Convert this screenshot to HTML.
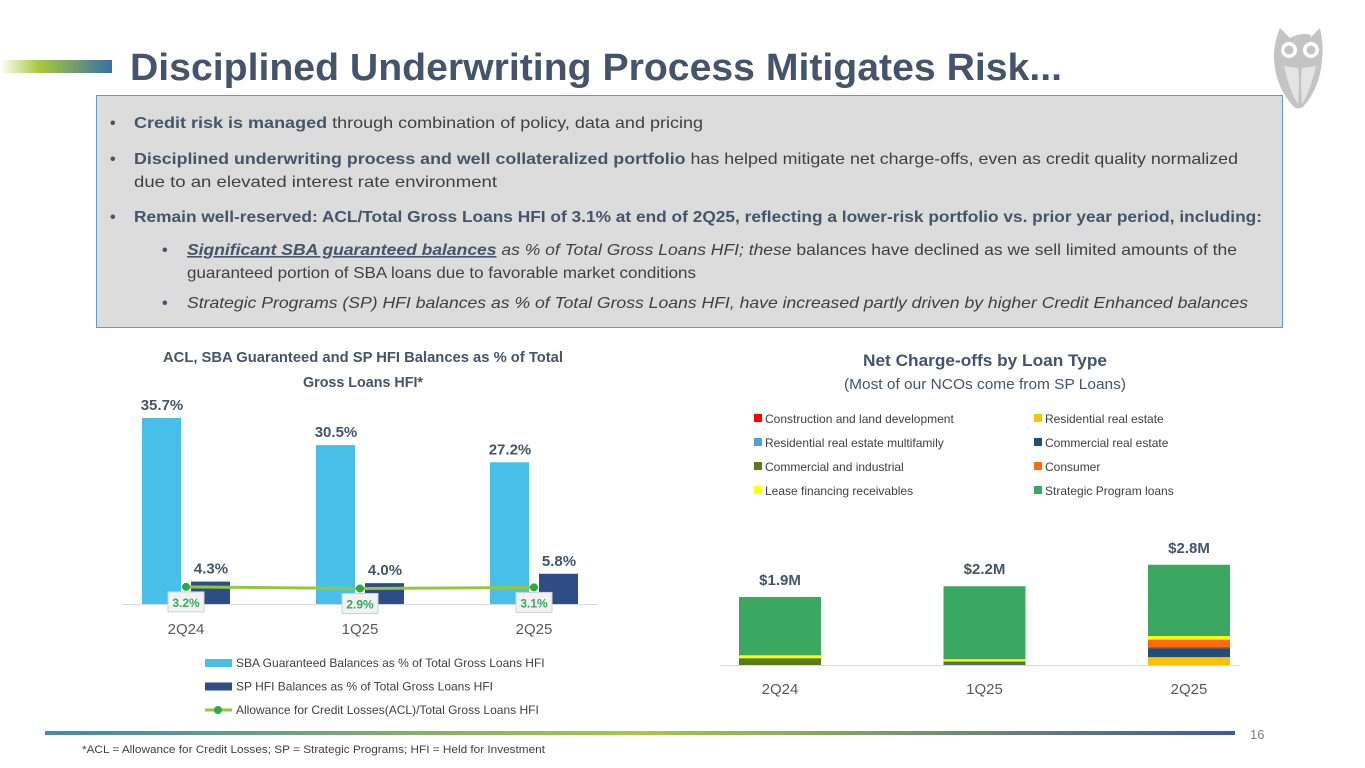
<!DOCTYPE html>
<html><head><meta charset="utf-8"><style>
html,body{margin:0;padding:0;background:#fff;width:1365px;height:768px;overflow:hidden}
svg{display:block;font-family:"Liberation Sans",sans-serif}
</style></head><body>
<svg id="slide" width="1365" height="768" viewBox="0 0 1365 768">
<defs>
<linearGradient id="tg" x1="0" x2="1"><stop offset="0" stop-color="#fff"/><stop offset="0.35" stop-color="#a8c93a"/><stop offset="1" stop-color="#3a6fa8"/></linearGradient>
<linearGradient id="bg" x1="0" x2="1"><stop offset="0" stop-color="#3f8ab0"/><stop offset="0.5" stop-color="#a8c93a"/><stop offset="1" stop-color="#3a5aa0"/></linearGradient>
</defs>
<rect x="0" y="60" width="112" height="13" fill="url(#tg)"/>
<text x="130" y="80" font-size="38" font-weight="bold" fill="#44546a" textLength="932" lengthAdjust="spacingAndGlyphs">Disciplined Underwriting Process Mitigates Risk...</text>
<g>
<path d="M1280 28 L1290 38 Q1297 34 1305 34 Q1313 34 1310 38 L1320 28 Q1324 45 1322 60 Q1320 88 1303 107 Q1298 110 1294 107 Q1276 88 1274 60 Q1273 45 1280 28 Z" fill="#c4c4c4"/>
<circle cx="1289" cy="50" r="8" fill="#fff"/><circle cx="1311" cy="50" r="8" fill="#fff"/>
<circle cx="1289" cy="50" r="4.5" fill="#c4c4c4"/><circle cx="1311" cy="50" r="4.5" fill="#c4c4c4"/>
<path d="M1284 66 Q1290 92 1298 104 Q1300 80 1298 68 Z M1316 66 Q1310 92 1302 104 Q1300 80 1302 68 Z" fill="#e4e4e4"/>
</g>
<rect x="96.5" y="95.5" width="1186" height="232" fill="#dcdcdc" stroke="#5b9bd5" stroke-width="1"/>
<g font-size="16" fill="#404040">
<text x="110" y="128" font-weight="bold" fill="#44546a">•</text>
<text x="134" y="128" textLength="569" lengthAdjust="spacingAndGlyphs"><tspan font-weight="bold" fill="#44546a">Credit risk is managed</tspan> through combination of policy, data and pricing</text>
<text x="110" y="164" font-weight="bold" fill="#44546a">•</text>
<text x="134" y="164" textLength="1104" lengthAdjust="spacingAndGlyphs"><tspan font-weight="bold" fill="#44546a">Disciplined underwriting process and well collateralized portfolio</tspan> has helped mitigate net charge-offs, even as credit quality normalized</text>
<text x="134" y="187" textLength="363" lengthAdjust="spacingAndGlyphs">due to an elevated interest rate environment</text>
<text x="110" y="222" font-weight="bold" fill="#44546a">•</text>
<text x="134" y="222" font-weight="bold" fill="#44546a" textLength="1128" lengthAdjust="spacingAndGlyphs">Remain well-reserved: ACL/Total Gross Loans HFI of 3.1% at end of 2Q25, reflecting a lower-risk portfolio vs. prior year period, including:</text>
<text x="162" y="255" font-weight="bold" fill="#44546a">•</text>
<text x="187" y="255" textLength="1050" lengthAdjust="spacingAndGlyphs"><tspan font-weight="bold" font-style="italic" text-decoration="underline" fill="#44546a">Significant SBA guaranteed balances</tspan><tspan font-style="italic"> as % of Total Gross Loans HFI;  these</tspan> balances have declined as we sell limited amounts of the</text>
<text x="187" y="278" textLength="509" lengthAdjust="spacingAndGlyphs">guaranteed portion of SBA loans due to favorable market conditions</text>
<text x="162" y="308" font-weight="bold" fill="#44546a">•</text>
<text x="187" y="308" font-style="italic" textLength="1061" lengthAdjust="spacingAndGlyphs">Strategic Programs (SP) HFI balances as % of Total Gross Loans HFI, have increased partly driven by higher Credit Enhanced balances</text>
</g>

<g id="leftChart">
<text x="363" y="362" font-size="15" font-weight="bold" fill="#44546a" text-anchor="middle" textLength="400" lengthAdjust="spacingAndGlyphs">ACL, SBA Guaranteed and SP HFI Balances as % of Total</text>
<text x="363" y="387" font-size="15" font-weight="bold" fill="#44546a" text-anchor="middle" textLength="120" lengthAdjust="spacingAndGlyphs">Gross Loans HFI*</text>
<line x1="122" y1="604.5" x2="598" y2="604.5" stroke="#d9d9d9"/>
</g>

<g id="rightChart">
<text x="985" y="366" font-size="17" font-weight="bold" fill="#44546a" text-anchor="middle" textLength="244" lengthAdjust="spacingAndGlyphs">Net Charge-offs by Loan Type</text>
<text x="985" y="389" font-size="15" fill="#44546a" text-anchor="middle" textLength="282" lengthAdjust="spacingAndGlyphs">(Most of our NCOs come from SP Loans)</text>
<line x1="720" y1="665.5" x2="1240" y2="665.5" stroke="#d9d9d9"/>
</g>

<rect x="45" y="731" width="1190" height="4" fill="url(#bg)"/>
<text x="1250" y="739" font-size="13" fill="#7f7f7f">16</text>
<text x="82" y="753" font-size="11" fill="#404040" textLength="463" lengthAdjust="spacingAndGlyphs">*ACL = Allowance for Credit Losses; SP = Strategic Programs; HFI = Held for Investment</text>
</svg>
<script>
const NS="http://www.w3.org/2000/svg";
// Left chart data
const leftCategories=["2Q24","1Q25","2Q25"];
const sbaValues=[35.7,30.5,27.2];
const spValues=[4.3,4.0,5.8];
const aclValues=[3.2,2.9,3.1];
const sbaLabels=["35.7%","30.5%","27.2%"];
const spLabels=["4.3%","4.0%","5.8%"];
const aclLabels=["3.2%","2.9%","3.1%"];
// Right chart data
const ncoCategories=["2Q24","1Q25","2Q25"];
const ncoTypes=["Construction and land development","Residential real estate","Residential real estate multifamily","Commercial real estate","Commercial and industrial","Consumer","Lease financing receivables","Strategic Program loans"];
const ncoStackOrder=[1,2,3,4,0,5,6,7];
const ncoValues=[
 [0,0,0,0,0.19,0,0.08,1.63],
 [0,0,0,0.02,0.08,0,0.06,2.04],
 [0.02,0.22,0,0.25,0,0.22,0.1,1.99]
];
const ncoTotals=["$1.9M","$2.2M","$2.8M"];
const ncoColors=["#ff0000","#ffc000","#4fa3d1","#1f4e79","#5a7a1e","#ff6a0a","#ffff00","#3aa860"];

function mk(tag,attrs,parent,text){const e=document.createElementNS(NS,tag);for(const k in attrs)e.setAttribute(k,attrs[k]);if(text!==undefined)e.textContent=text;parent.appendChild(e);return e;}

const L=document.getElementById("leftChart");
const lBase=604, lScale=5.21, aclScale=5.35;
const lx=i=>186+i*174;
const ly=v=>lBase-v*lScale;
const ay=v=>lBase-v*aclScale;
leftCategories.forEach((c,i)=>{
 const h1=sbaValues[i]*lScale;
 const r1=mk("rect",{x:lx(i)-44,y:ly(sbaValues[i]),width:39,height:h1,fill:"#48bfe8"},L);
 
 
 const r2=mk("rect",{x:lx(i)+5,y:ly(spValues[i]),width:39,height:spValues[i]*lScale,fill:"#2e4d86"},L);
 
 
 const t1=mk("text",{x:lx(i)-24,y:ly(sbaValues[i])-8,"font-size":15,"font-weight":"bold",fill:"#44546a","text-anchor":"middle"},L,sbaLabels[i]);
 
 
 const t2=mk("text",{x:lx(i)+25,y:ly(spValues[i])-8,"font-size":15,"font-weight":"bold",fill:"#44546a","text-anchor":"middle"},L,spLabels[i]);
 
 
 const xt=mk("text",{x:lx(i),y:634,"font-size":15,fill:"#595959","text-anchor":"middle"},L,c);
 
 
});
let pts=aclValues.map((v,i)=>lx(i)+","+ay(v)).join(" ");
const pl=mk("polyline",{points:pts,fill:"none",stroke:"#92c83e","stroke-width":3},L);


aclValues.forEach((v,i)=>{
 const c=mk("circle",{cx:lx(i),cy:ay(v),r:4,fill:"#2ea84a"},L);
 
 
 const b=mk("rect",{x:lx(i)-18,y:ay(v)+5,width:36,height:20,fill:"#f2f2f2",stroke:"#d0d0d0"},L);
 
 
 const t=mk("text",{x:lx(i),y:ay(v)+20,"font-size":12,"font-weight":"bold",fill:"#3aa860","text-anchor":"middle"},L,aclLabels[i]);
 
 
});
const leg=[["SBA Guaranteed Balances as % of Total Gross Loans HFI","#48bfe8"],["SP HFI Balances as % of Total Gross Loans HFI","#2e4d86"],["Allowance for Credit Losses(ACL)/Total Gross Loans HFI","#92c83e"]];
leg.forEach((l,i)=>{
 const y=663+i*23.5;
 if(i<2){const r=mk("rect",{x:205,y:y-4,width:27,height:8,fill:l[1]},L);
  
  }
 else{const ln=mk("line",{x1:205,x2:232,y1:y,y2:y,stroke:l[1],"stroke-width":3},L);
  
  
  const c=mk("circle",{cx:218,cy:y,r:4,fill:"#2ea84a"},L);
  
  }
 const t=mk("text",{x:236,y:y+4,"font-size":12,fill:"#404040"},L,l[0]);
 
 
});

const R=document.getElementById("rightChart");
const rBase=665, rScale=35.8;
const rx=i=>780+i*204.5;
ncoCategories.forEach((c,i)=>{
 let acc=0;
 ncoStackOrder.forEach(k=>{
  const v=ncoValues[i][k]; if(v<=0){return;}
  const r=mk("rect",{x:rx(i)-41,y:rBase-(acc+v)*rScale,width:82,height:v*rScale,fill:ncoColors[k]},R);
  
  
  acc+=v;
 });
 const t=mk("text",{x:rx(i),y:rBase-acc*rScale-12,"font-size":15,"font-weight":"bold",fill:"#44546a","text-anchor":"middle"},R,ncoTotals[i]);
 
 
 const xt=mk("text",{x:rx(i),y:694,"font-size":15,fill:"#595959","text-anchor":"middle"},R,c);
 
 
});
ncoTypes.forEach((n,k)=>{
 const col=k%2, row=Math.floor(k/2);
 const x=col?1034:754, y=419+row*24;
 const r=mk("rect",{x:x,y:y-5,width:8,height:8,fill:ncoColors[k]},R);
 
 
 const t=mk("text",{x:x+11,y:y+4,"font-size":12,fill:"#404040"},R,n);
 
 
});
</script>
</body></html>
